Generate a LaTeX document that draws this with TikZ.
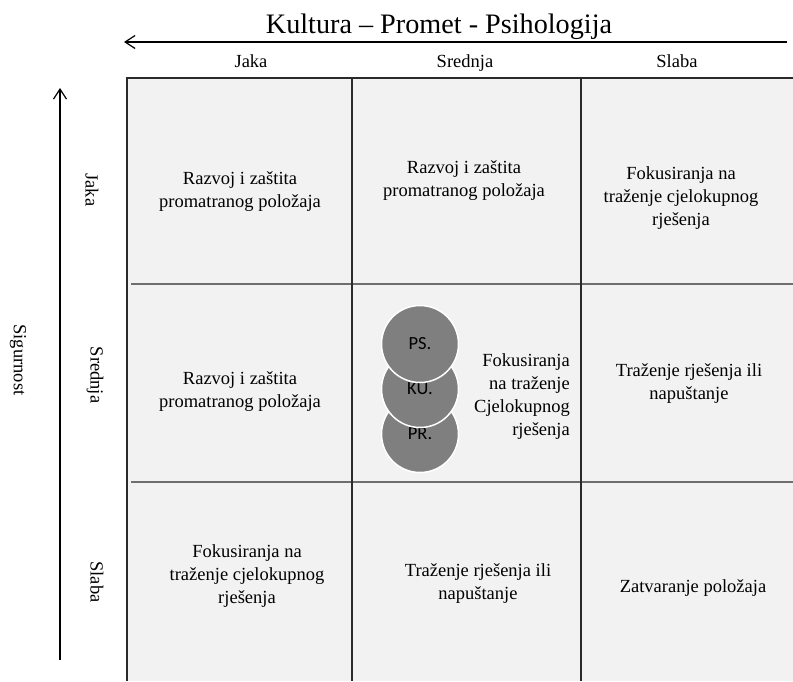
\documentclass[tikz,border=0pt]{standalone}
\usepackage{fontspec}
\setmainfont{Liberation Serif}
\newfontfamily\lblfont{Carlito}
\usetikzlibrary{arrows.meta}
\definecolor{cellbg}{HTML}{F2F2F2}
\definecolor{circfill}{HTML}{7F7F7F}
\definecolor{hline}{HTML}{6E6E6E}
\definecolor{vline}{HTML}{2A2A2A}
\begin{document}
\begin{tikzpicture}[x=1pt,y=-1pt,
  celltext/.style={font=\fontsize{18.5}{23}\selectfont, align=center, inner sep=0pt},
  headtext/.style={font=\fontsize{18.5}{23}\selectfont, anchor=base, inner sep=0pt},
  sidetext/.style={font=\fontsize{18.5}{23}\selectfont, rotate=-90, inner sep=0pt},
  circ/.style={circle, minimum size=77pt, inner sep=0pt, fill=circfill, draw=white, line width=1.5pt, font=\lblfont\fontsize{18.5}{20}\selectfont},
  axisarrow/.style={line width=1.2pt, -{Straight Barb[length=10pt, width=13pt, line width=1.2pt]}}
]
\useasboundingbox (0,0) rectangle (793,681);
% grid
\fill[cellbg] (127,78) rectangle (793,681);
\draw[hline, line width=1.4pt] (131,284) -- (793,284);
\draw[hline, line width=1.4pt] (131,482) -- (793,482);
\draw[vline, line width=1.4pt] (352,78) -- (352,681);
\draw[vline, line width=1.4pt] (581,78) -- (581,681);
\draw[vline, line width=2pt] (126,78) -- (793,78);
\draw[vline, line width=2pt] (127,77) -- (127,681);
% title and axes
\node[font=\fontsize{28.2}{30}\selectfont, anchor=base, inner sep=0pt] (title) at (439,33) {Kultura – Promet - Psihologija};
\coordinate (hR) at (787,42);
\coordinate (hL) at (124,42);
\draw[axisarrow] (hR) -- (hL);
\coordinate (vB) at (60,660);
\coordinate (vT) at (60,88);
\draw[axisarrow] (vB) -- (vT);
\node[sidetext] (sig) at (18,360) {Sigurnost};
% column headers
\node[headtext] (cJ) at (251,67) {Jaka};
\node[headtext] (cS) at (465,67) {Srednja};
\node[headtext] (cL) at (677,67) {Slaba};
% row headers
\node[sidetext] (rJ) at (92,190) {Jaka};
\node[sidetext] (rS) at (95,375) {Srednja};
\node[sidetext] (rL) at (97,582) {Slaba};
% cells
\node[celltext] (a1) at (240,192) {Razvoj i zaštita\\promatranog položaja};
\node[celltext] (a2) at (464,181) {Razvoj i zaštita\\promatranog položaja};
\node[celltext] (a3) at (681,198) {Fokusiranja na\\traženje cjelokupnog\\rješenja};
\node[celltext] (b1) at (240,392) {Razvoj i zaštita\\promatranog položaja};
\node[celltext] (b3) at (689,384) {Traženje rješenja ili\\napuštanje};
\node[celltext] (c1) at (247,576) {Fokusiranja na\\traženje cjelokupnog\\rješenja};
\node[celltext] (c2) at (478,584) {Traženje rješenja ili\\napuštanje};
\node[celltext] (c3) at (693,588) {Zatvaranje položaja};
% circles
\node[circ] (pr) at (420,434) {PR.};
\node[circ] (ku) at (420,389) {KU.};
\node[circ] (ps) at (420,344) {PS.};
\node[celltext, align=right, anchor=east] (b2) at (570,397) {Fokusiranja\\na traženje\\Cjelokupnog\\rješenja};
\end{tikzpicture}
\end{document}
